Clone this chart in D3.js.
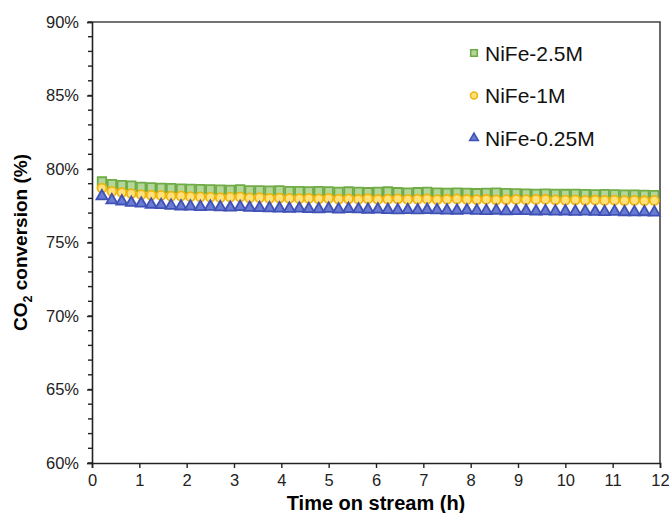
<!DOCTYPE html>
<html>
<head>
<meta charset="utf-8">
<script src="https://cdn.jsdelivr.net/npm/d3@7"></script>
<style>
  body { margin: 0; background: #fff; }
  svg { display: block; font-family: "Liberation Sans", Arial, sans-serif; }
</style>
</head>
<body>
<svg width="672" height="513"></svg>
<script>
const [WIDTH, HEIGHT] = [672, 513]
const margin = { left: 92, top: 22, right: 12, bottom: 50 }

// time on stream (h), one sample every 12.5 min
const times = [0.21, 0.42, 0.63, 0.83, 1.04, 1.25, 1.46, 1.67, 1.88, 2.08,
  2.29, 2.50, 2.71, 2.92, 3.13, 3.33, 3.54, 3.75, 3.96, 4.17,
  4.38, 4.58, 4.79, 5.00, 5.21, 5.42, 5.63, 5.83, 6.04, 6.25,
  6.46, 6.67, 6.88, 7.08, 7.29, 7.50, 7.71, 7.92, 8.13, 8.33,
  8.54, 8.75, 8.96, 9.17, 9.38, 9.58, 9.79, 10.00, 10.21, 10.42,
  10.63, 10.83, 11.04, 11.25, 11.46, 11.67, 11.88]

const nife25 = [79.15, 78.97, 78.90, 78.87, 78.78, 78.75, 78.72, 78.70, 78.66, 78.65,
  78.63, 78.62, 78.60, 78.58, 78.62, 78.55, 78.55, 78.53, 78.55, 78.50,
  78.50, 78.48, 78.50, 78.48, 78.45, 78.47, 78.44, 78.42, 78.44, 78.47,
  78.42, 78.40, 78.42, 78.44, 78.40, 78.37, 78.40, 78.38, 78.35, 78.37,
  78.40, 78.36, 78.34, 78.33, 78.31, 78.33, 78.31, 78.30, 78.31, 78.29,
  78.28, 78.29, 78.27, 78.26, 78.26, 78.24, 78.22]

const nife1 = [78.70, 78.48, 78.40, 78.33, 78.25, 78.22, 78.20, 78.15, 78.17, 78.12,
  78.10, 78.08, 78.05, 78.08, 78.10, 78.03, 78.05, 78.00, 78.02, 78.00,
  77.98, 78.00, 77.97, 78.00, 77.95, 77.97, 77.94, 77.98, 77.93, 77.95,
  77.97, 77.93, 77.95, 77.96, 77.92, 77.94, 77.96, 77.93, 77.92, 77.94,
  77.90, 77.92, 77.93, 77.91, 77.93, 77.94, 77.90, 77.88, 77.90, 77.87,
  77.89, 77.86, 77.88, 77.85, 77.87, 77.84, 77.86]

const nife025 = [78.15, 77.88, 77.80, 77.70, 77.65, 77.58, 77.55, 77.50, 77.46, 77.45,
  77.42, 77.44, 77.40, 77.38, 77.42, 77.36, 77.35, 77.33, 77.32, 77.30,
  77.31, 77.28, 77.27, 77.30, 77.25, 77.28, 77.26, 77.24, 77.25, 77.22,
  77.20, 77.21, 77.19, 77.22, 77.20, 77.18, 77.17, 77.19, 77.16, 77.15,
  77.17, 77.13, 77.14, 77.15, 77.12, 77.13, 77.11, 77.12, 77.10, 77.11,
  77.09, 77.08, 77.10, 77.07, 77.06, 77.07, 77.05]

const seriesNames = ["NiFe-2.5M", "NiFe-1M", "NiFe-0.25M"]
const xTicks = [0, 1, 2, 3, 4, 5, 6, 7, 8, 9, 10, 11, 12]
const yTicks = [60, 65, 70, 75, 80, 85, 90]
const yMinorTicks = d3.range(60, 91, 1)

const styles = [
  { symbol: d3.symbolSquare, size: 72, fill: "#b4d69a", stroke: "#6fac46" },
  { symbol: d3.symbolCircle, size: 64, fill: "#ffe17a", stroke: "#efb40e" },
  { symbol: d3.symbolTriangle, size: 52, fill: "#6a7cd2", stroke: "#3f51b5" }
]
const series = [nife25, nife1, nife025]

const svg = d3.select("svg").attr("viewBox", `0 0 ${WIDTH} ${HEIGHT}`)

const x = d3.scaleLinear().domain([0, 12]).range([margin.left, WIDTH - margin.right])
const y = d3.scaleLinear().domain([60, 90]).range([HEIGHT - margin.bottom, margin.top])

// frame (top + right)
svg.append("path")
  .attr("d", `M${x(0)},${y(90)}H${x(12)}V${y(60)}`)
  .attr("fill", "none").attr("stroke", "#444").attr("stroke-width", 1.6)

// y axis
const yAxis = svg.append("g").attr("transform", `translate(${x(0)},0)`)
yAxis.selectAll("line.minor").data(yMinorTicks).enter().append("line")
  .attr("x1", -4).attr("x2", 0).attr("y1", d => y(d)).attr("y2", d => y(d))
  .attr("stroke", "#222").attr("stroke-width", 1.4)
yAxis.call(d3.axisLeft(y).tickValues(yTicks).tickSize(5).tickPadding(8).tickFormat(d => d + "%"))
yAxis.select(".domain").attr("stroke", "#222").attr("stroke-width", 1.6)
yAxis.selectAll(".tick line").attr("stroke", "#222").attr("stroke-width", 1.4)
yAxis.selectAll(".tick text").attr("font-size", 16.5).attr("fill", "#222")
  .attr("font-family", "Liberation Sans, Arial, sans-serif")

// x axis
const xAxis = svg.append("g").attr("transform", `translate(0,${y(60)})`)
xAxis.call(d3.axisBottom(x).tickValues(xTicks).tickSize(5).tickPadding(6))
xAxis.select(".domain").attr("stroke", "#222").attr("stroke-width", 1.6)
xAxis.selectAll(".tick line").attr("stroke", "#222").attr("stroke-width", 1.4)
xAxis.selectAll(".tick text").attr("font-size", 16.5).attr("fill", "#222")
  .attr("font-family", "Liberation Sans, Arial, sans-serif")

// axis titles
svg.append("text")
  .attr("x", (x(0) + x(12)) / 2 + 0).attr("y", 510)
  .attr("text-anchor", "middle").attr("font-size", 20).attr("font-weight", "bold")
  .text("Time on stream (h)")

const yt = svg.append("text")
  .attr("transform", `translate(27,${(y(60) + y(90)) / 2}) rotate(-90)`)
  .attr("text-anchor", "middle").attr("font-size", 19).attr("font-weight", "bold")
yt.append("tspan").text("CO")
yt.append("tspan").text("2").attr("font-size", 12.5).attr("dy", 5)
yt.append("tspan").text(" conversion (%)").attr("dy", -5)

// data points
series.forEach((vals, i) => {
  const st = styles[i]
  svg.append("g").selectAll("path")
    .data(vals.map((v, j) => [times[j], v]))
    .enter().append("path")
    .attr("d", d3.symbol().type(st.symbol).size(st.size))
    .attr("transform", d => `translate(${x(d[0])},${y(d[1])})`)
    .attr("fill", st.fill).attr("stroke", st.stroke).attr("stroke-width", 1.8)
})

// legend
const legend = svg.append("g").attr("transform", "translate(474,53)")
seriesNames.forEach((name, i) => {
  const st = styles[i]
  const g = legend.append("g").attr("transform", `translate(0,${i * 42.5})`)
  g.append("path")
    .attr("d", d3.symbol().type(st.symbol).size(st.size * 0.6))
    .attr("fill", st.fill).attr("stroke", st.stroke).attr("stroke-width", 1.6)
  g.append("text").attr("x", 11).attr("dy", "0.36em")
    .attr("font-size", 21).attr("fill", "#111").text(name)
})
</script>
</body>
</html>
